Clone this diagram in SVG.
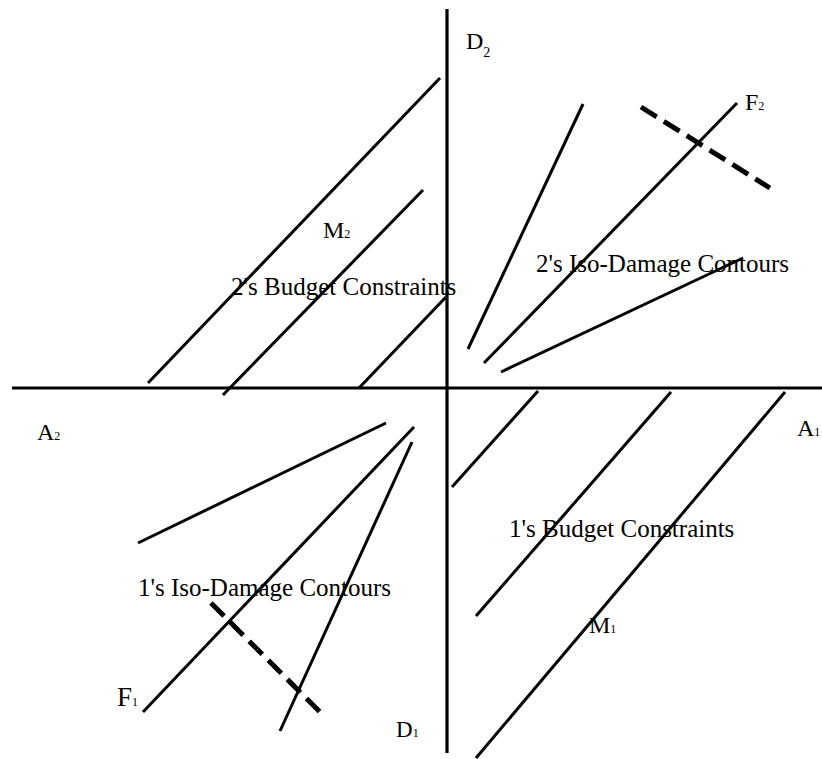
<svg xmlns="http://www.w3.org/2000/svg" width="822" height="759" viewBox="0 0 822 759">
<style>
.ln{stroke:#000;stroke-width:3;fill:none;stroke-linecap:butt}
.ax{stroke:#000;stroke-width:3.2;fill:none}
.ds{stroke:#000;stroke-width:5;fill:none;stroke-dasharray:18.5 8.5}
text{font-family:"Liberation Serif","Times New Roman",serif;fill:#000}
.lb{font-size:25px}
.sym{font-size:24px}
.sub{font-size:12px}
</style>
<rect width="822" height="759" fill="#fff"/>
<g id="axes">
<line class="ax" x1="12" y1="388" x2="822" y2="388"/>
<line class="ax" x1="447" y1="9" x2="447" y2="753"/>
</g>
<g id="budget-2">
<line class="ln" x1="440" y1="78" x2="148" y2="383"/>
<line class="ln" x1="423" y1="190" x2="223" y2="395"/>
<line class="ln" x1="446" y1="297" x2="359" y2="388"/>
</g>
<g id="iso-2">
<line class="ln" x1="583" y1="104" x2="468" y2="349"/>
<line class="ln" x1="737" y1="103" x2="484" y2="363"/>
<line class="ln" x1="743" y1="258" x2="501" y2="372"/>
<line class="ds" x1="641" y1="107" x2="770" y2="188"/>
</g>
<g id="iso-1">
<line class="ln" x1="386" y1="423" x2="138" y2="543"/>
<line class="ln" x1="414" y1="427" x2="143" y2="712"/>
<line class="ln" x1="412" y1="442" x2="280" y2="731"/>
<line class="ds" x1="211" y1="603" x2="321" y2="713"/>
</g>
<g id="budget-1">
<line class="ln" x1="538" y1="391" x2="452" y2="487"/>
<line class="ln" x1="671" y1="392" x2="476" y2="616"/>
<line class="ln" x1="785" y1="392" x2="476" y2="758"/>
</g>
<g id="labels">
<text class="sym" x="466" y="49">D<tspan font-size="14" dy="8">2</tspan></text>
<text class="sym" x="745" y="110">F<tspan class="sub">2</tspan></text>
<text class="sym" x="323" y="238">M<tspan class="sub">2</tspan></text>
<text class="lb" x="231" y="295">2's Budget Constraints</text>
<text class="lb" x="536" y="272">2's Iso-Damage Contours</text>
<text class="sym" x="37" y="440">A<tspan class="sub">2</tspan></text>
<text class="sym" x="797" y="436">A<tspan class="sub">1</tspan></text>
<text class="lb" x="509" y="537">1's Budget Constraints</text>
<text class="sym" x="589" y="633">M<tspan class="sub">1</tspan></text>
<text class="lb" x="138" y="596">1's Iso-Damage Contours</text>
<text x="117" y="706" font-size="27">F<tspan class="sub">1</tspan></text>
<text x="396" y="737" font-size="23">D<tspan class="sub">1</tspan></text>
</g>
</svg>
